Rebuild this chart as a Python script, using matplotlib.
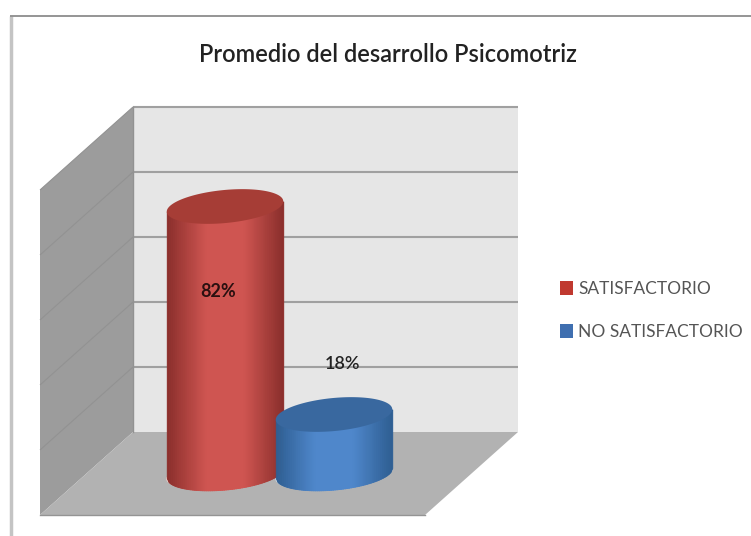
import numpy as np
import matplotlib
matplotlib.use('Agg')
import matplotlib.pyplot as plt
from matplotlib.patches import Polygon, Patch
from matplotlib.colors import LinearSegmentedColormap

categories = ['SATISFACTORIO', 'NO SATISFACTORIO']
values = [82, 18]
labels = ['82%', '18%']
grid_values = [0, 20, 40, 60, 80, 100]
title = 'Promedio del desarrollo Psicomotriz'

W, H = 751, 536
plt.rcParams['font.family'] = ['Lato', 'DejaVu Sans']

fig = plt.figure(figsize=(W / 100, H / 100), dpi=100, facecolor='white')

# background axes in pixels (frame and the 3d walls)
bg = fig.add_axes([0, 0, 1, 1])
bg.set_xlim(0, W)
bg.set_ylim(H, 0)
bg.axis('off')

PX_PER_PCT = 3.25
WALL_Y0 = 432
bg.plot([11, 11], [16, H], color='#c4c4c4', lw=2.5, solid_capstyle='butt')
bg.plot([10, W], [16, 16], color='#8c8c8c', lw=1.3, solid_capstyle='butt')

wall_top = WALL_Y0 - PX_PER_PCT * max(grid_values)
bg.add_patch(Polygon([(133, wall_top), (518, wall_top), (518, WALL_Y0), (133, WALL_Y0)], fc='#e6e6e6', ec='none'))
bg.add_patch(Polygon([(40, wall_top + 83), (133, wall_top), (133, WALL_Y0), (40, WALL_Y0 + 83)], fc='#9c9c9c', ec='none'))
bg.add_patch(Polygon([(133, WALL_Y0), (518, WALL_Y0), (425, WALL_Y0 + 83), (40, WALL_Y0 + 83)], fc='#b2b2b2', ec='none'))
for v in grid_values[1:]:
    y = WALL_Y0 - PX_PER_PCT * v
    bg.plot([133, 518], [y, y], color='#a0a0a0', lw=1.5, solid_capstyle='butt')
    bg.plot([40, 133], [y + 83, y], color='#929292', lw=0.8, solid_capstyle='butt')
bg.plot([40, 425], [515, 515], color='#949494', lw=1.0)
bg.plot([133, 133], [wall_top, WALL_Y0], color='#929292', lw=1.0)

bg.text(387.5, 55, title, ha='center', va='center', fontsize=17, fontweight='semibold', color='#222222')

# bar axes: x in category units, y in percent
STEP = 109
X0, Y0 = 225, 473
ax = fig.add_axes([0, 0, 1, 1])
ax.patch.set_alpha(0)
ax.axis('off')
ax.set_xlim(-X0 / STEP, (W - X0) / STEP)
ax.set_ylim((Y0 - H) / PX_PER_PCT, Y0 / PX_PER_PCT)

A, B, TILT = 58.5, 16.5, np.radians(5.5)
t = np.linspace(0, 2 * np.pi, 361)[:-1]
ex = (A * np.cos(t) * np.cos(TILT) - B * np.sin(t) * np.sin(TILT)) / STEP
ey = (A * np.cos(t) * np.sin(TILT) + B * np.sin(t) * np.cos(TILT)) / PX_PER_PCT
il, ir = np.argmin(ex), np.argmax(ex)
# lower half of the ellipse, left end to right end
low_idx = (il + np.arange((ir - il) % len(ex) + 1)) % len(ex)


def cylinder(xc, val, edge, mid, top, halo):
    cmap = LinearSegmentedColormap.from_list('c', [edge, mid, mid, edge], N=128)
    xs = np.linspace(ex[il], ex[ir], 60)
    under = np.interp(xs, ex[low_idx], ey[low_idx])
    over = np.interp(xs, [ex[il], ex[ir]], [ey[il], ey[ir]]) + val
    # solid body first, otherwise the grid shows through the strip seams
    ax.fill_between(xc + xs, under, over, color=mid, lw=0, zorder=3)
    # thin vertical strips for the shading round the side
    for i in range(len(xs) - 1):
        ax.fill_between(xc + xs[i:i + 2], under[i:i + 2], over[i:i + 2], color=cmap(i / (len(xs) - 2)),
                        lw=0.6, zorder=3.1)
    ax.plot(xc + ex[low_idx], ey[low_idx], color=halo, lw=1.0, zorder=2.9)
    ax.add_patch(Polygon(np.column_stack([xc + ex, val + ey]), closed=True, fc=top, ec='none', zorder=4))


cylinder(0, values[0], '#8c302d', '#cf5551', '#a63d36', '#e9cfc9')
cylinder(1, values[1], '#2f5f93', '#4f87cb', '#39689f', '#c9d3de')

ax.text(-0.06, 56, labels[0], ha='center', va='center', fontsize=13, fontweight='bold', color='#2a1010', zorder=6)
ax.text(1.08, 33.5, labels[1], ha='center', va='center', fontsize=13, fontweight='semibold', color='#222222', zorder=6)

handles = [Patch(fc='#c0392f', ec='none'), Patch(fc='#3f6fb0', ec='none')]
leg = ax.legend(handles, categories, loc='center left', bbox_to_anchor=(560 / W, 1 - 310.5 / H),
                bbox_transform=fig.transFigure, frameon=False, fontsize=12.5, labelcolor='#555555',
                handlelength=0.75, handleheight=0.85, handletextpad=0.3, labelspacing=1.6,
                borderpad=0, borderaxespad=0)

fig.savefig('out.png', dpi=100)
